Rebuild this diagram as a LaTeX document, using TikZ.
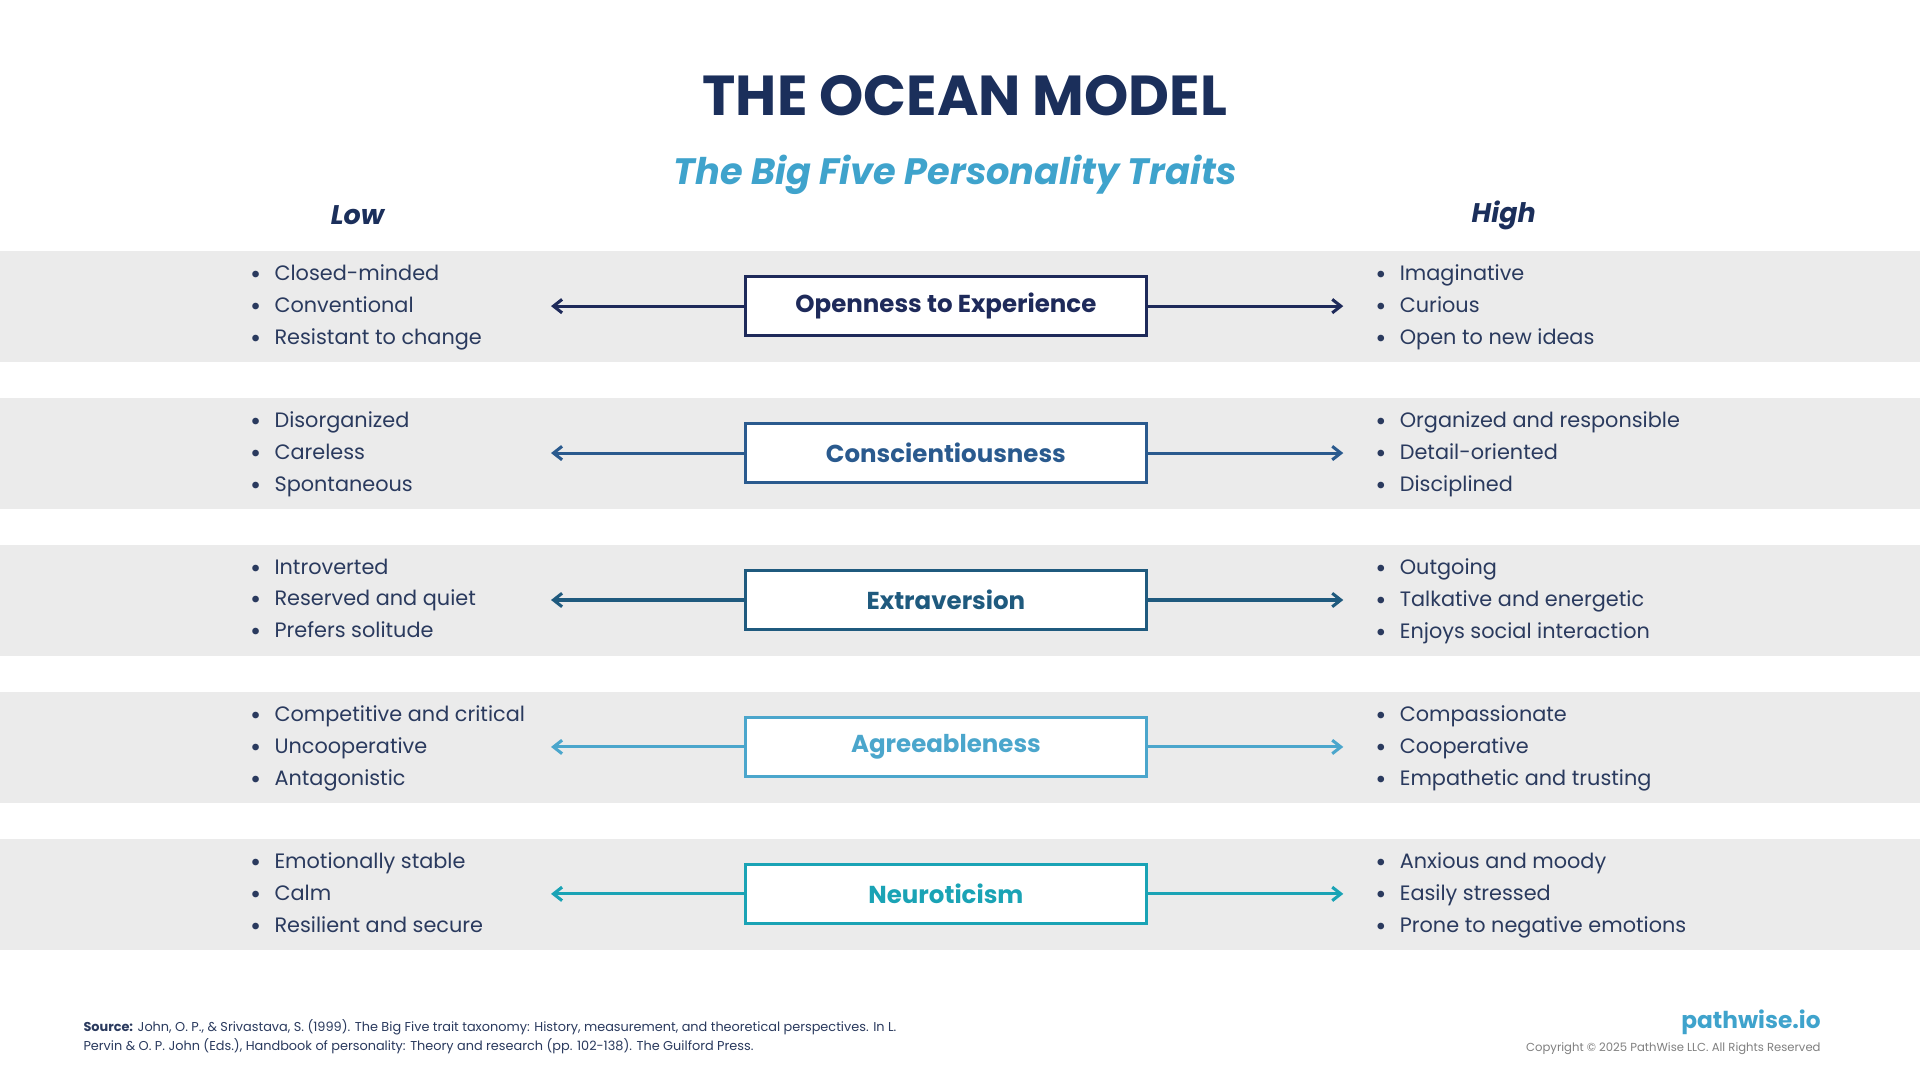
\documentclass[tikz,border=0pt]{standalone}
\usepackage{fontspec}
\setmainfont{Poppins}
\usetikzlibrary{arrows.meta}
\definecolor{navy}{HTML}{1B2F5B}
\definecolor{sky}{HTML}{3FA3CC}
\definecolor{band}{HTML}{EBEBEB}
\definecolor{txt}{HTML}{2A3A5E}
\definecolor{cA}{HTML}{1E2A5A}
\definecolor{cB}{HTML}{2A5A8E}
\definecolor{cC}{HTML}{1F5A7E}
\definecolor{cD}{HTML}{4BA6CC}
\definecolor{cE}{HTML}{1AA3B5}
\newcommand{\bul}{\makebox[20pt][l]{\raisebox{-2.5pt}{\fontsize{22}{22}\selectfont\textbullet}}}
\tikzset{
 trait/.style={draw=#1,line width=2.5pt,fill=white,minimum width=327pt,minimum height=48pt,text=#1,font=\fontsize{20}{22}\selectfont\bfseries},
 arr/.style={draw=#1,line width=2.5pt,-{Straight Barb[length=7pt,width=11pt,line width=2.5pt]}},
 blist/.style={anchor=north west,align=left,text=txt,font=\fontsize{17}{26}\selectfont,inner sep=0pt}
}
\begin{document}
\begin{tikzpicture}[x=1pt,y=-1pt]
\useasboundingbox (0,0) rectangle (1568,882);
\fill[white] (0,0) rectangle (1568,882);
\node[text=navy,font=\fontsize{46}{50}\selectfont\bfseries] (title) at (788,78) {THE OCEAN MODEL};
\node[text=sky,font=\fontsize{30}{34}\selectfont\bfseries\itshape] (sub) at (780,143) {The Big Five Personality Traits};
\node[text=navy,font=\fontsize{22}{24}\selectfont\bfseries\itshape] (low) at (292,176) {Low};
\node[text=navy,font=\fontsize{22}{24}\selectfont\bfseries\itshape] (high) at (1228,176) {High};
\foreach \i/\c/\name/\la/\lb/\lc/\ha/\hb/\hc in {
 0/cA/Openness to Experience/Closed-minded/Conventional/Resistant to change/Imaginative/Curious/Open to new ideas,
 1/cB/Conscientiousness/Disorganized/Careless/Spontaneous/Organized and responsible/Detail-oriented/Disciplined,
 2/cC/Extraversion/Introverted/Reserved and quiet/Prefers solitude/Outgoing/Talkative and energetic/Enjoys social interaction,
 3/cD/Agreeableness/Competitive and critical/Uncooperative/Antagonistic/Compassionate/Cooperative/Empathetic and trusting,
 4/cE/Neuroticism/Emotionally stable/Calm/Resilient and secure/Anxious and moody/Easily stressed/Prone to negative emotions}{
 \pgfmathsetmacro{\yc}{250+120*\i}
 \fill[band] (0,\yc-45) rectangle (1568,\yc+46);
 \node[trait=\c] (t\i) at (772.5,\yc) {\name};
 \coordinate (l\i) at (450,\yc);
 \coordinate (r\i) at (1097,\yc);
 \draw[arr=\c] (t\i.west) -- (l\i);
 \draw[arr=\c] (t\i.east) -- (r\i);
 \node[blist] (lo\i) at (204,\yc-34) {\bul\la\\\bul\lb\\\bul\lc};
 \node[blist] (hi\i) at (1123,\yc-34) {\bul\ha\\\bul\hb\\\bul\hc};
}
\node[anchor=north west,align=left,text=txt,inner sep=0pt,font=\fontsize{10.5}{16}\selectfont] (src) at (68,832) {\textbf{Source:} John, O. P., \& Srivastava, S. (1999). The Big Five trait taxonomy: History, measurement, and theoretical perspectives. In L.\\Pervin \& O. P. John (Eds.), Handbook of personality: Theory and research (pp. 102-138). The Guilford Press.};
\node[anchor=east,text=sky,font=\fontsize{19}{20}\selectfont\bfseries,inner sep=0pt] (logo) at (1487,835) {pathwise.io};
\node[anchor=east,text=gray,font=\fontsize{9.5}{10}\selectfont,inner sep=0pt] (copy) at (1487,856) {Copyright © 2025 PathWise LLC. All Rights Reserved};
\end{tikzpicture}
\end{document}
